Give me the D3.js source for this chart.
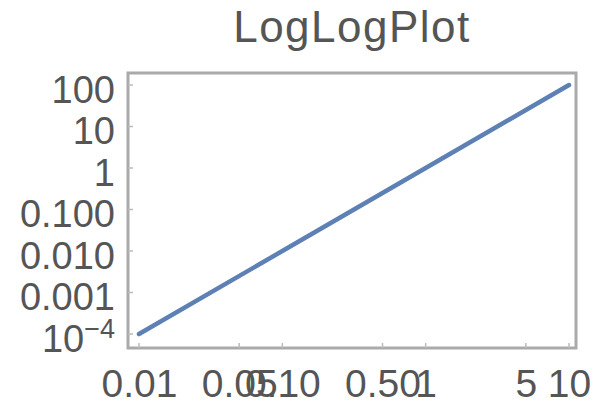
<!DOCTYPE html>
<html>
<head>
<meta charset="utf-8">
<script src="https://cdn.jsdelivr.net/npm/d3@7"></script>
<style>
  html, body { margin: 0; padding: 0; background: #fff; }
  svg { display: block; }
  text { font-family: "Liberation Sans", Arial, sans-serif; fill: #555; }
</style>
</head>
<body>
<svg id="chart" width="601" height="406"></svg>
<script>
// Data (y = x^2 on log-log axes)
const xValues = [0.01, 0.1, 1, 10];
const yValues = [0.0001, 0.01, 1, 100];
const xTickValues = [0.01, 0.05, 0.1, 0.5, 1, 5, 10];
const xTickLabels = ["0.01", "0.05", "0.10", "0.50", "1", "5", "10"];
const yTickValues = [0.0001, 0.001, 0.01, 0.1, 1, 10, 100];
const yTickLabels = ["10^-4", "0.001", "0.010", "0.100", "1", "10", "100"];
const title = "LogLogPlot";

const svg = d3.select("#chart");
const frame = { left: 128, right: 576, top: 73, bottom: 348 };

const x = d3.scaleLog().domain([0.01, 10]).range([139, 569]);
const y = d3.scaleLog().domain([0.0001, 100]).range([334, 85]);

// Title
svg.append("text")
  .attr("x", (frame.left + frame.right) / 2)
  .attr("y", 42)
  .attr("text-anchor", "middle")
  .style("font-size", "44px")
  .style("letter-spacing", "1.5px")
  .text(title);

// Frame
svg.append("rect")
  .attr("x", frame.left).attr("y", frame.top)
  .attr("width", frame.right - frame.left)
  .attr("height", frame.bottom - frame.top)
  .attr("fill", "none")
  .attr("stroke", "#aaa")
  .attr("stroke-width", 3);

// Bottom axis
const xAxis = d3.axisBottom(x)
  .tickValues(xTickValues)
  .tickFormat((d, i) => xTickLabels[i])
  .tickSize(0).tickPadding(0);
const gx = svg.append("g").attr("transform", `translate(0,${frame.bottom})`).call(xAxis);
gx.select(".domain").remove();
gx.selectAll("text")
  .attr("y", 49).attr("dy", null)
  .style("font-size", "39px")
  .style("font-family", "Liberation Sans, Arial, sans-serif")
  .attr("fill", "#555");

// Left axis
const yAxis = d3.axisLeft(y)
  .tickValues(yTickValues)
  .tickFormat("")
  .tickSize(0);
const gy = svg.append("g").attr("transform", `translate(${frame.left},0)`).call(yAxis);
gy.select(".domain").remove();
gy.selectAll(".tick").each(function (d, i) {
  const t = d3.select(this).append("text")
    .attr("x", -13).attr("y", 17)
    .attr("text-anchor", "end")
    .style("font-size", "38px")
    .style("font-family", "Liberation Sans, Arial, sans-serif")
    .attr("fill", "#555");
  const lab = yTickLabels[i];
  if (lab.includes("^")) {
    const [b, e] = lab.split("^");
    t.append("tspan").text(b);
    t.append("tspan").attr("dy", -14).style("font-size", "27px").text(e.replace("-", "\u2212"));
  } else {
    t.text(lab);
  }
});

// Small frame ticks
const tickLen = 5;
xTickValues.forEach(v => {
  svg.append("line").attr("x1", x(v)).attr("x2", x(v))
    .attr("y1", frame.bottom).attr("y2", frame.bottom - tickLen)
    .attr("stroke", "#bbb").attr("stroke-width", 1.5);
});
yTickValues.forEach(v => {
  svg.append("line").attr("x1", frame.left).attr("x2", frame.left + tickLen)
    .attr("y1", y(v)).attr("y2", y(v))
    .attr("stroke", "#bbb").attr("stroke-width", 1.5);
});

// Line
const pts = xValues.map((v, i) => [v, yValues[i]]);
svg.append("path")
  .datum(pts)
  .attr("fill", "none")
  .attr("stroke", "#5E81B5")
  .attr("stroke-width", 4.5)
  .attr("stroke-linecap", "round")
  .attr("d", d3.line().x(d => x(d[0])).y(d => y(d[1])));
</script>
</body>
</html>
